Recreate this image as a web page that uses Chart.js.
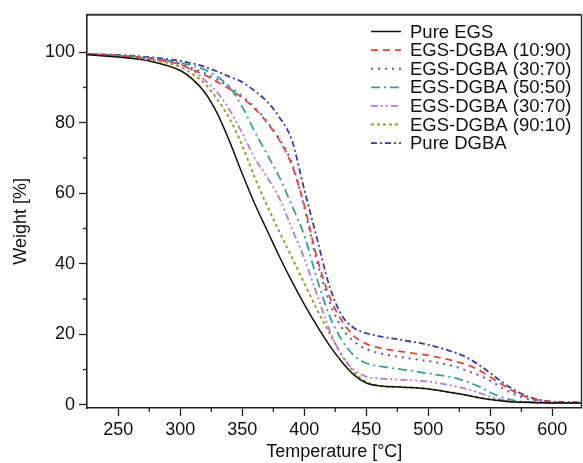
<!DOCTYPE html>
<html>
<head>
<meta charset="utf-8">
<script src="https://cdn.jsdelivr.net/npm/chart.js@4/dist/chart.umd.min.js"></script>
<style>
html,body{margin:0;padding:0;background:#fff;}
#c{display:block;}
</style>
</head>
<body>
<canvas id="c" width="583" height="463"></canvas>
<script>
// ---- data ----
const temps = [225,250,275,300,310,320,330,340,350,360,370,380,390,400,410,420,430,440,450,460,480,500,520,530,540,550,560,570,580,590,600,623];
const pureEGS  = [99.3,98.6,97.5,94.8,92.3,88.5,82.5,74.5,65.5,57,49.5,42,35,28.5,22.5,17,12.3,8.5,6.2,5.4,5.0,4.5,3.4,2.8,2.1,1.5,1.1,0.8,0.7,0.6,0.5,0.5];
const egs10_90 = [99.5,99,98.2,96.5,95,93.5,91.5,89.5,87,84,80,75,68,56.5,42,31,24,19.5,17.3,16.2,15,14,12.5,11.5,10,7.9,5.6,3.6,2.1,1.2,0.8,0.6];
const egs30_70a= [99.5,99,98.3,96.7,95.4,94,92.2,90,87.5,84.3,80.3,75.3,68.5,56,41,29.5,22,18,15.8,14.7,13.4,12.4,11,9.8,8.5,6.8,4.7,2.9,1.7,1.0,0.7,0.5];
const egs50_50 = [99.5,99,98.4,97,96.2,95,93,90,84.5,77.5,71,64.5,56.5,48,36,25.5,18.5,14,11.8,11,10,8.9,7.7,6.7,5.3,3.5,2.1,1.2,0.8,0.6,0.5,0.5];
const egs30_70b= [99.5,99,98.2,96.5,94.8,92,88.5,83.5,77,70,64.5,58.5,50,41.5,31.5,21.5,14,10,8,7.5,7.1,6.6,5.4,4.6,3.5,2.3,1.4,0.9,0.7,0.6,0.5,0.5];
const egs90_10 = [99.5,98.8,97.9,95.8,93.8,91,86.5,81,73.5,64.5,56.5,49,41.8,34.5,27.2,20.5,14.3,9.3,6.5,5.4,5.0,4.5,3.4,2.8,2.1,1.5,1.1,0.8,0.7,0.6,0.5,0.5];
const pureDGBA = [99.5,99.2,98.6,97.5,96.8,95.8,94.5,93,91.5,89,86,81.5,75,61,47.5,34,25.5,21.8,20.3,19.5,18.3,17,15,13.6,11.5,9,6.3,4.1,2.4,1.4,0.9,0.7];
const seriesNames = ['Pure EGS','EGS-DGBA (10:90)','EGS-DGBA (30:70)','EGS-DGBA (50:50)','EGS-DGBA (30:70)','EGS-DGBA (90:10)','Pure DGBA'];
const seriesValues = [pureEGS, egs10_90, egs30_70a, egs50_50, egs30_70b, egs90_10, pureDGBA];
const xTicks = [250,300,350,400,450,500,550,600];
const xMinorTicks = [275,325,375,425,475,525,575];
const yTicks = [0,20,40,60,80,100];
const yMinorTicks = [10,30,50,70,90];
const xTitle = 'Temperature [°C]';
const yTitle = 'Weight [%]';

// ---- styles ----
const styles = [
  {color:'#111111', dash:[], width:1.5},
  {color:'#e2483a', dash:[7,5], width:1.8},
  {color:'#5656cc', dash:[2,5], width:2},
  {color:'#35a095', dash:[9,4,2,4], width:1.8},
  {color:'#b57ad6', dash:[7,3,2,3,2,3], width:1.8},
  {color:'#9c9c30', dash:[3,3], width:2},
  {color:'#3a3a9e', dash:[6,3,2,3], width:1.8}
];

const datasets = seriesValues.map((vals, i) => ({
  label: seriesNames[i],
  data: temps.map((t, j) => ({x: t, y: vals[j]})),
  borderColor: styles[i].color,
  backgroundColor: styles[i].color,
  borderDash: styles[i].dash,
  borderWidth: styles[i].width,
  pointRadius: 0,
  fill: false,
  cubicInterpolationMode: 'monotone'
}));

const FONT = '"Liberation Sans", Arial, sans-serif';
const AXIS = '#222';

const extras = {
  id: 'extras',
  afterDraw(chart) {
    const ctx = chart.ctx;
    const ca = chart.chartArea;
    const xs = chart.scales.x, ys = chart.scales.y;
    ctx.save();
    // frame top & right
    ctx.strokeStyle = '#333';
    ctx.lineWidth = 2;
    ctx.beginPath(); ctx.moveTo(ca.left, ca.top); ctx.lineTo(ca.right, ca.top); ctx.stroke();
    ctx.lineWidth = 1.5;
    ctx.beginPath(); ctx.moveTo(ca.right, ca.top); ctx.lineTo(ca.right, ca.bottom); ctx.stroke();
    // minor ticks
    ctx.strokeStyle = AXIS;
    ctx.lineWidth = 1.3;
    xMinorTicks.forEach(v => { const px = xs.getPixelForValue(v); ctx.beginPath(); ctx.moveTo(px, ca.bottom); ctx.lineTo(px, ca.bottom + 4); ctx.stroke(); });
    yMinorTicks.forEach(v => { const py = ys.getPixelForValue(v); ctx.beginPath(); ctx.moveTo(ca.left, py); ctx.lineTo(ca.left - 4, py); ctx.stroke(); });
    // legend
    chart.data.datasets.forEach((ds, i) => {
      const y = 31.5 + i * 18.6;
      ctx.strokeStyle = ds.borderColor;
      ctx.lineWidth = ds.borderWidth;
      ctx.setLineDash(ds.borderDash || []);
      ctx.beginPath(); ctx.moveTo(371, y); ctx.lineTo(401, y); ctx.stroke();
      ctx.setLineDash([]);
      ctx.fillStyle = '#111';
      ctx.font = '18.5px ' + FONT;
      ctx.textBaseline = 'middle';
      ctx.textAlign = 'left';
      ctx.fillText(ds.label, 410, y + 1);
    });
    ctx.restore();
  }
};

new Chart(document.getElementById('c'), {
  type: 'line',
  data: { datasets },
  options: {
    responsive: false,
    animation: false,
    layout: { padding: { top: 14, right: 1.5, left: 0, bottom: 0 } },
    plugins: { legend: { display: false }, tooltip: { enabled: false } },
    scales: {
      x: {
        type: 'linear', min: 224.8, max: 623.5,
        afterBuildTicks: s => { s.ticks = xTicks.map(v => ({value: v})); },
        afterFit: s => { s.height = 55; },
        grid: { drawOnChartArea: false, drawTicks: true, tickLength: 8, color: AXIS, tickWidth: 1.3 },
        border: { display: true, color: AXIS, width: 1.6 },
        ticks: { color: '#111', font: { family: FONT, size: 18 }, padding: 3, maxRotation: 0, autoSkip: false },
        title: { display: true, text: xTitle, color: '#111', font: { family: FONT, size: 18 }, padding: { top: 0, bottom: 0 } }
      },
      y: {
        type: 'linear', min: -0.9, max: 110.6,
        afterBuildTicks: s => { s.ticks = yTicks.map(v => ({value: v})); },
        afterFit: s => { s.width = 87; },
        grid: { drawOnChartArea: false, drawTicks: true, tickLength: 8, color: AXIS, tickWidth: 1.3 },
        border: { display: true, color: AXIS, width: 1.6 },
        ticks: { color: '#111', font: { family: FONT, size: 18 }, padding: 4, autoSkip: false },
        title: { display: true, text: yTitle + '    ', color: '#111', font: { family: FONT, size: 18 }, padding: { top: 10, bottom: 0 } }
      }
    }
  },
  plugins: [extras]
});
</script>
</body>
</html>
